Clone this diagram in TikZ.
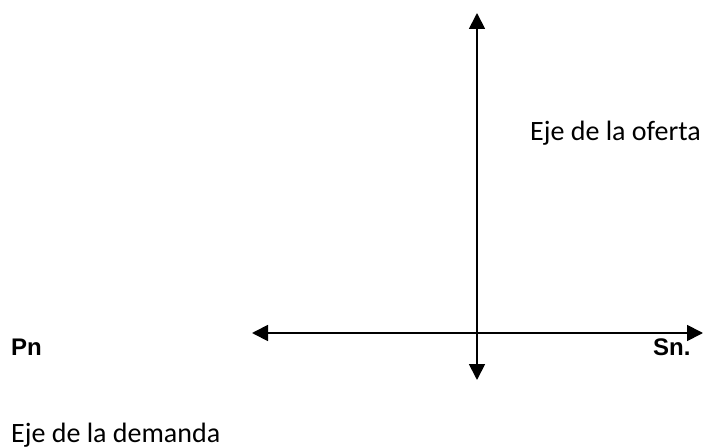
\documentclass[tikz,border=0pt]{standalone}
\usepackage{fontspec}
\setmainfont{Carlito}
\newfontfamily\arialfont{Liberation Sans}
\usetikzlibrary{arrows.meta, positioning}

\begin{document}
\begin{tikzpicture}[
    x=1bp, y=-1bp,
    axis/.style={{Triangle[length=16bp, width=16bp]}-{Triangle[length=16bp, width=16bp]}, line width=1.8bp},
    label/.style={inner sep=0pt, anchor=base west, font=\fontsize{28bp}{32bp}\selectfont},
    tag/.style={inner sep=0pt, anchor=base west, font=\arialfont\bfseries\fontsize{24bp}{28bp}\selectfont},
]
    \useasboundingbox (0,0) rectangle (709,448);

    % Axes
    \coordinate (top) at (477, 13);
    \coordinate (bottom) at (477, 380);
    \coordinate (left) at (252, 333);
    \coordinate (right) at (703, 333);
    \draw[axis] (bottom) -- (top);
    \draw[axis] (left) -- (right);

    % Labels
    \node[label] (oferta) at (530, 141) {Eje de la oferta};
    \node[label] (demanda) at (11, 442) {Eje de la demanda};
    \node[tag] (pn) at (11, 355) {Pn};
    \node[tag] (sn) at (653, 355) {Sn.};
\end{tikzpicture}
\end{document}
